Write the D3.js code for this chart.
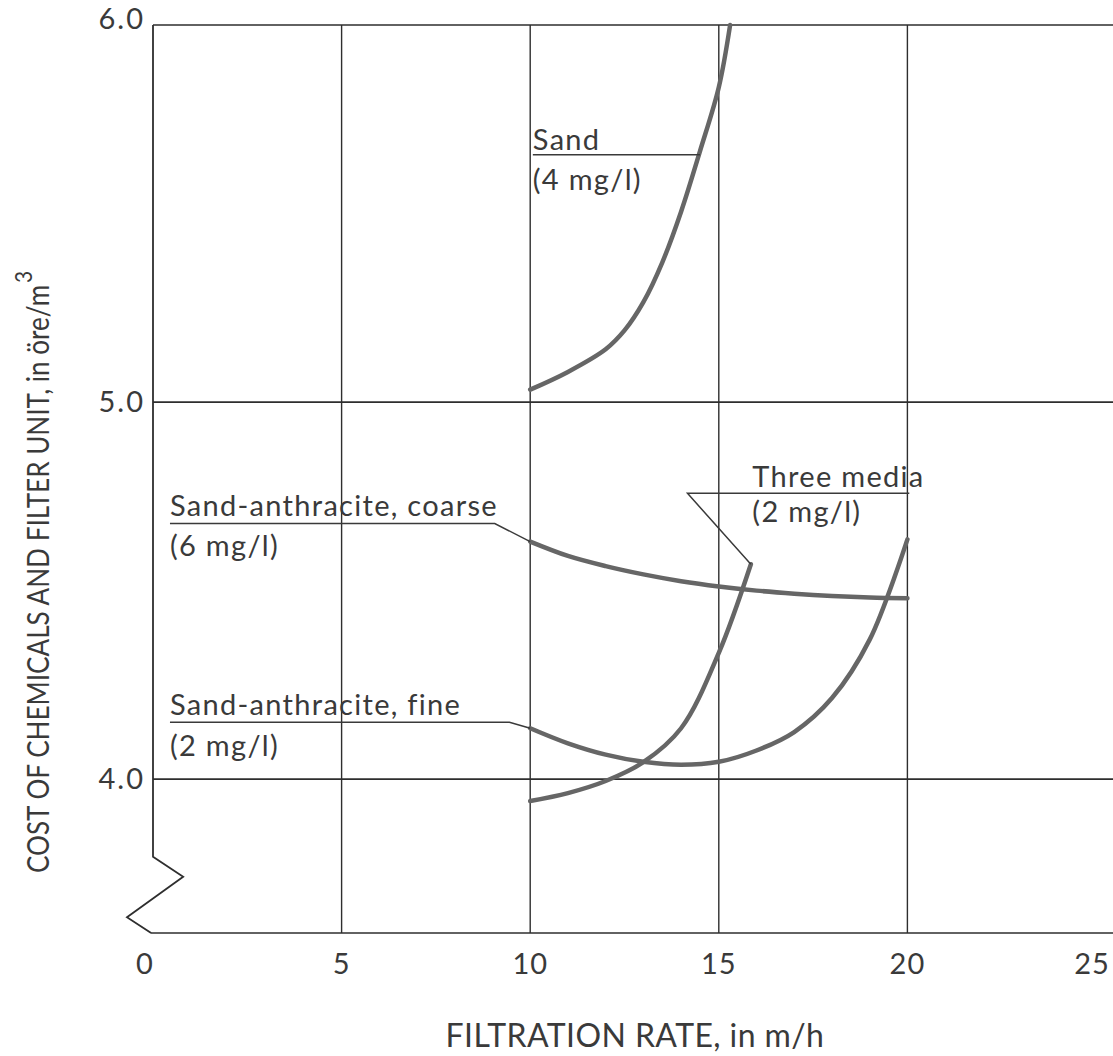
<!DOCTYPE html>
<html>
<head>
<meta charset="utf-8">
<script src="https://cdn.jsdelivr.net/npm/d3@7"></script>
<style>
  html, body { margin: 0; padding: 0; background: #fff; }
  svg { display: block; }
  text { font-family: Lato, "Noto Sans", sans-serif; fill: #3a3a3a; }
</style>
</head>
<body>
<svg id="chart" width="1113" height="1056"></svg>
<script>
// Filtration rate (m/h) and cost (öre/m³) along each curve
const sandRate    = [10, 11, 12, 12.5, 13, 13.5, 14, 14.5, 15, 15.3];
const sandCost    = [5.033, 5.08, 5.14, 5.19, 5.265, 5.37, 5.505, 5.665, 5.835, 6.0];

const coarseRate  = [10, 11, 12, 13, 14, 15, 16, 17, 18, 19, 20];
const coarseCost  = [4.630, 4.592, 4.565, 4.543, 4.525, 4.511, 4.500, 4.492, 4.486, 4.482, 4.480];

const fineRate    = [10, 11, 12, 13, 14, 15, 16, 17, 18, 19, 20];
const fineCost    = [4.135, 4.095, 4.065, 4.046, 4.038, 4.046, 4.076, 4.125, 4.215, 4.37, 4.636];

const threeRate   = [10, 11, 12, 13, 14, 15, 15.85];
const threeCost   = [3.942, 3.963, 3.995, 4.045, 4.135, 4.335, 4.57];

const xTicks      = [0, 5, 10, 15, 20, 25];
const xTickLabels = ["0", "5", "10", "15", "20", "25"];
const yTicks      = [4, 5, 6];
const yTickLabels = ["4.0", "5.0", "6.0"];

const xTitle = "FILTRATION RATE, in m/h";
const yTitle = "COST OF CHEMICALS AND FILTER UNIT, in öre/m";

const W = 1113, H = 1056;
const svg = d3.select("#chart");

const x = d3.scaleLinear().domain([0, 25]).range([153, 1096]);
const y = d3.scaleLinear().domain([3.592, 6.0]).range([933, 25]);

const gridColor = "#2e2e2e";
const curveColor = "#666";

// Grid: vertical lines at 5..20, horizontal at 4.0 and 5.0, top frame at 6.0
const g = svg.append("g");
g.selectAll("line.v").data(xTicks.filter(d => d > 0 && d < 25)).join("line")
  .attr("x1", d => x(d)).attr("x2", d => x(d))
  .attr("y1", y(6)).attr("y2", y(3.592))
  .attr("stroke", gridColor).attr("stroke-width", 1.4);
g.selectAll("line.h").data(yTicks).join("line")
  .attr("x1", x(0)).attr("x2", W)
  .attr("y1", d => y(d)).attr("y2", d => y(d))
  .attr("stroke", gridColor).attr("stroke-width", 1.6);
// Bottom axis
g.append("line")
  .attr("x1", x(0) - 2).attr("x2", W)
  .attr("y1", y(3.592)).attr("y2", y(3.592))
  .attr("stroke", gridColor).attr("stroke-width", 1.6);

// Left axis with a break symbol below 4.0
const axisBreak = [[0, 6.0], [0, 3.794], [0.8, 3.741], [-0.69, 3.634], [-0.05, 3.592]];
g.append("path")
  .attr("d", d3.line().x(d => x(d[0])).y(d => y(d[1]))(axisBreak))
  .attr("fill", "none").attr("stroke", gridColor).attr("stroke-width", 1.8)
  .attr("stroke-linejoin", "miter");

// Tick labels
svg.append("g").selectAll("text").data(xTicks).join("text")
  .attr("x", d => x(d)).attr("y", 974)
  .attr("dx", (d, i) => i === 0 ? -8 : (i === xTicks.length - 1 ? -4 : 0))
  .attr("text-anchor", "middle")
  .attr("font-size", 29)
  .attr("letter-spacing", 1)
  .text((d, i) => xTickLabels[i]);
svg.append("g").selectAll("text").data(yTicks).join("text")
  .attr("x", 145).attr("y", d => y(d) + 10)
  .attr("dy", d => d === 6 ? -6 : 0)
  .attr("text-anchor", "end")
  .attr("font-size", 29)
  .attr("letter-spacing", 2)
  .text((d, i) => yTickLabels[i]);

// Axis titles
svg.append("text")
  .attr("x", 635).attr("y", 1047)
  .attr("text-anchor", "middle")
  .attr("font-size", 32)
  .attr("letter-spacing", 0.4)
  .text(xTitle);
const yt = svg.append("text")
  .attr("transform", "translate(49,873) rotate(-90) scale(0.87,1)")
  .attr("text-anchor", "start")
  .attr("font-size", 30);
yt.append("tspan").text(yTitle);
yt.append("tspan").attr("dy", -17).attr("dx", 2).attr("font-size", 24).text("3");

// Curves
const curve = d3.line().x(d => x(d[0])).y(d => y(d[1])).curve(d3.curveCatmullRom.alpha(0.5));
const series = [
  d3.zip(sandRate, sandCost),
  d3.zip(coarseRate, coarseCost),
  d3.zip(fineRate, fineCost),
  d3.zip(threeRate, threeCost)
];
svg.append("g").selectAll("path").data(series).join("path")
  .attr("d", curve)
  .attr("fill", "none")
  .attr("stroke", curveColor)
  .attr("stroke-width", 4.5)
  .attr("stroke-linecap", "round");

// Curve labels with underline leaders
const labels = [
  { lines: ["Sand", "(4 mg/l)"], tx: 10.07, base: 5.669, gap: 0.106,
    leader: [[10.07, 5.656], [14.5, 5.656]] },
  { lines: ["Sand-anthracite, coarse", "(6 mg/l)"], tx: 0.45, base: 4.697, gap: 0.106,
    leader: [[0.45, 4.678], [9.06, 4.678], [10, 4.630]] },
  { lines: ["Sand-anthracite, fine", "(2 mg/l)"], tx: 0.45, base: 4.170, gap: 0.109,
    leader: [[0.45, 4.151], [9.45, 4.151], [10, 4.135]] },
  { lines: ["Three media", "(2 mg/l)"], tx: 15.89, base: 4.776, gap: 0.093,
    leader: [[20.05, 4.758], [14.17, 4.758], [15.85, 4.57]] }
];
const lg = svg.append("g");
labels.forEach(l => {
  l.lines.forEach((t, i) => {
    lg.append("text")
      .attr("x", x(l.tx)).attr("y", y(l.base - i * l.gap))
      .attr("font-size", 29)
      .attr("letter-spacing", 1.3)
      .text(t);
  });
  lg.append("path")
    .attr("d", d3.line().x(d => x(d[0])).y(d => y(d[1]))(l.leader))
    .attr("fill", "none").attr("stroke", "#3a3a3a").attr("stroke-width", 1.5);
});
</script>
</body>
</html>
